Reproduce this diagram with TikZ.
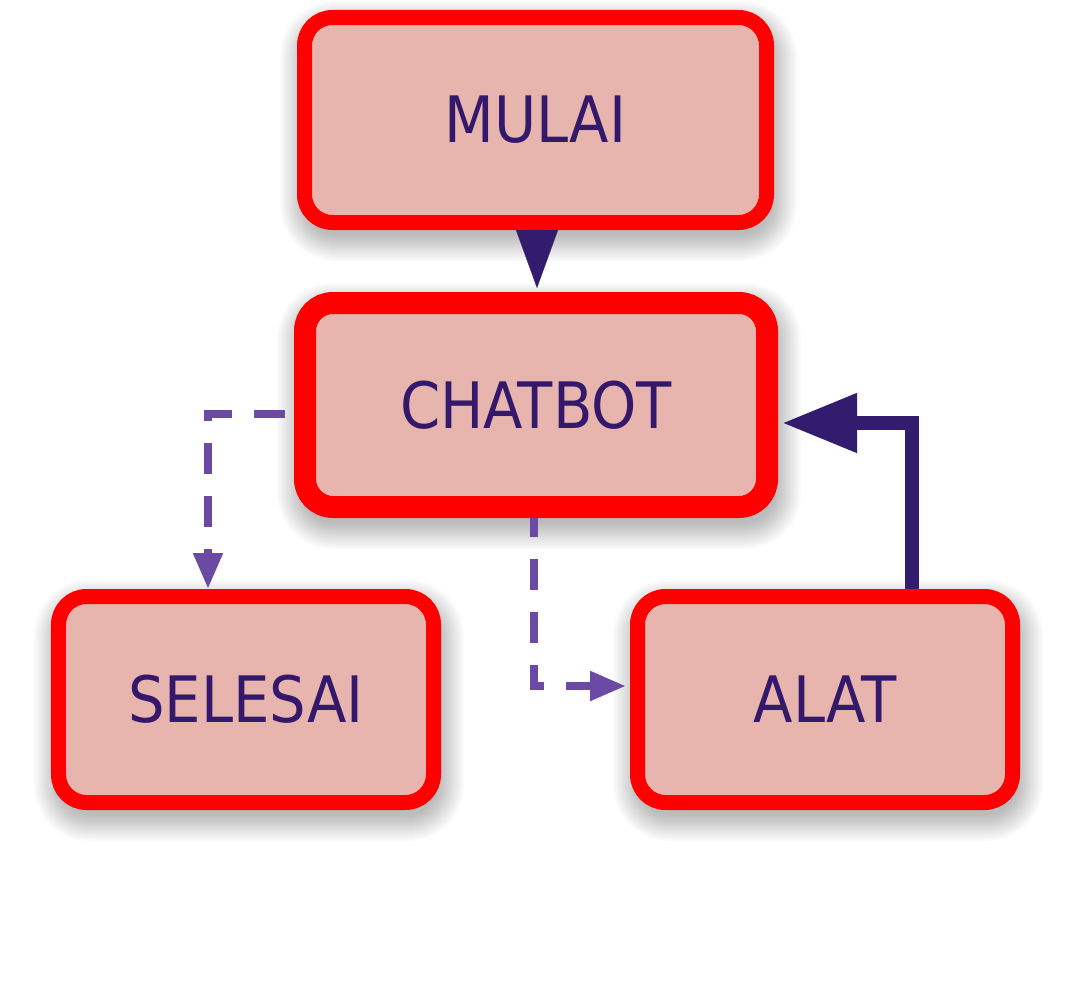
\documentclass[tikz,border=0pt]{standalone}
\usepackage{fontspec}
\newfontfamily\boxfont{DejaVu Sans Condensed}
\usetikzlibrary{arrows.meta,backgrounds}
\definecolor{boxred}{HTML}{FF0000}
\definecolor{boxfill}{HTML}{E7B5AD}
\definecolor{txt}{HTML}{33186B}
\definecolor{solidarrow}{HTML}{331B6E}
\definecolor{dasharrow}{HTML}{6A4AA5}
\tikzset{
  box/.style={draw=boxred, fill=boxfill, rounded corners=28bp, text=txt,
    font=\boxfont\fontsize{64bp}{70bp}\selectfont, inner sep=0pt},
  shadowstep/.style={fill=black, fill opacity=0.018, draw=none},
  dashconn/.style={draw=dasharrow, line width=8bp, dash pattern=on 31bp off 22bp,
    -{Triangle[length=36bp,width=28bp]}},
  solidconn/.style={draw=solidarrow, line width=14bp,
    -{Triangle[length=75bp,width=56bp]}},
  topconn/.style={draw=solidarrow, line width=0.1bp,
    -{Triangle[length=58bp,width=42bp]}}
}
\newcommand\myboxshadow[1]{%
  \foreach \i in {0,...,13}{%
    \pgfmathsetmacro\e{20-2*\i}%
    \pgfmathsetmacro\r{max(8,36+\e)}%
    \path[shadowstep, rounded corners=\r bp] ([shift={(-\e+3,-\e+11)}]#1.north west) rectangle ([shift={(\e+3,\e+11)}]#1.south east);
  }}
\begin{document}
\begin{tikzpicture}[x=1bp,y=-1bp]
\useasboundingbox (0,0) rectangle (1072,992);
\node[box, line width=15bp, minimum width=462bp, minimum height=205bp] (mulai) at (535.5,120) {MULAI};
\node[box, line width=22bp, minimum width=462bp, minimum height=204bp] (chatbot) at (536,405) {CHATBOT};
\node[box, line width=15bp, minimum width=375bp, minimum height=206bp] (selesai) at (246,699.5) {SELESAI};
\node[box, line width=15bp, minimum width=375bp, minimum height=206bp] (alat) at (825,699.5) {ALAT};
\begin{scope}[on background layer]
  \fill[white] (0,0) rectangle (1072,992);
  \myboxshadow{mulai}
  \myboxshadow{chatbot}
  \myboxshadow{selesai}
  \myboxshadow{alat}
\end{scope}
\draw[topconn, shorten >=4bp] (mulai.south -| 537,0) -- (chatbot.north -| 537,0);
\draw[dashconn, shorten <=9bp] (chatbot.west |- 0,414) -| (selesai.north -| 208,0);
\draw[dashconn, dash phase=12bp, shorten >=4bp] (chatbot.south -| 534,0) |- (alat.west |- 0,686);
\draw[solidconn, shorten >=4bp] (alat.north -| 912,0) |- (chatbot.east |- 0,423);
\end{tikzpicture}
\end{document}
